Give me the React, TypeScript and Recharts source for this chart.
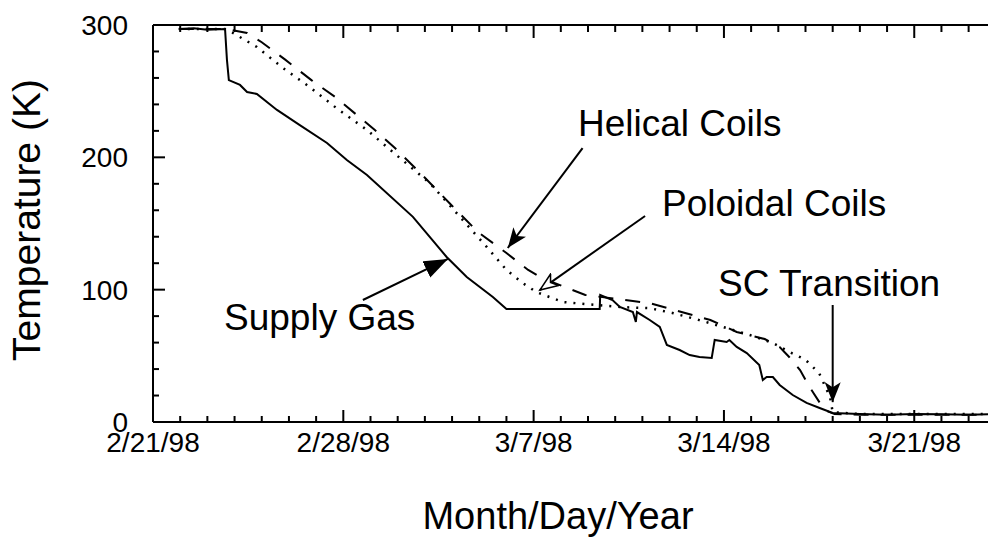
import { LineChart, Line, XAxis, YAxis, ReferenceLine } from "recharts";

const FONT = "'Liberation Sans', Arial, Helvetica, sans-serif";

// days since 2/21/98
const dayTicks = [
  0, 1, 2, 3, 4, 5, 6, 7, 8, 9, 10, 11, 12, 13, 14, 15, 16, 17, 18, 19, 20,
  21, 22, 23, 24, 25, 26, 27, 28, 29, 30, 31, 32,
];
const dateTicks = [0, 7, 14, 21, 28];
const dateLabels = ["2/21/98", "2/28/98", "3/7/98", "3/14/98", "3/21/98"];
const tempTicks = [0, 20, 40, 60, 80, 100, 120, 140, 160, 180, 200, 220, 240, 260, 280, 300];
const tempLabels = [0, 100, 200, 300];

const supplyDay = [
  0.95, 1.5, 2.0, 2.65, 2.72, 2.79, 3.2, 3.46, 3.82, 4.56, 5.4, 6.4, 7.13, 7.87,
  9.56, 10.8, 11.54, 12.5, 13.0, 16.43, 16.45, 16.9, 17.17, 17.65, 17.76, 17.8,
  18.27, 18.64, 18.9, 19.37, 19.74, 20.1, 20.55, 20.66, 21.1, 21.2, 21.47,
  21.84, 22.3, 22.43, 22.57, 22.8, 23.05, 23.53, 24.04, 24.52, 25.0, 26.0, 27.0,
  28.0, 29.0, 30.0, 31.0, 32.0,
];
const supplyK = [
  297, 297.5, 296.5, 297, 273.6, 258.4, 254.7, 249.4, 247.9, 235.8, 224.4,
  210.8, 198, 186.7, 155, 124.7, 109.6, 94.5, 85.4, 85.4, 96, 92.2, 86.9, 83.1,
  75.6, 83.1, 77.1, 71.8, 58.2, 54.4, 50.6, 49.1, 48.4, 62, 60.5, 62, 56.7, 52.1,
  43, 31.7, 34, 34, 28, 20.4, 14.4, 10.6, 6.8, 6, 5.5, 6, 5.8, 5.5, 6, 5.8,
];

const helicalDay = [
  0.95, 2.65, 3.46, 4.0, 4.85, 5.85, 6.7, 8.16, 8.9, 9.9, 10.9, 11.95, 13.0,
  13.8, 14.3, 15.9, 17.06, 17.65, 18.27, 19.3, 20.5, 21.47, 22.5, 23.05, 23.4,
  23.8, 24.15, 24.7, 25.07, 26, 28, 30, 32,
];
const helicalK = [
  297, 297, 294, 287, 274, 258, 245.6, 220.7, 207, 186.7, 165.5, 143.6, 127.7,
  114.9, 108.8, 96, 93, 91.4, 89.9, 83.9, 77.1, 68, 62.7, 56.7, 49.1, 39.3,
  26.4, 9, 6, 5.5, 5.5, 5.5, 5.5,
];

const poloidalDay = [
  0.95, 2.65, 2.94, 3.82, 4.78, 5.77, 6.76, 7.87, 8.82, 10.18, 11.29, 12.28,
  13.0, 13.6, 14.1, 15.07, 16.3, 17.17, 18.27, 19.1, 20.1, 21.1, 21.95, 22.8,
  23.5, 24.0, 24.5, 24.9, 25.0, 26, 28, 30, 32,
];
const poloidalK = [
  297, 297, 294, 283.4, 267.5, 253, 237, 220.7, 204, 180.6, 155, 132.2, 114.9,
  105, 98.2, 90.7, 88.4, 86.9, 86, 82.4, 77, 71, 65.7, 59.7, 52, 47, 37, 19,
  7.5, 6, 6, 6, 6,
];

const toRows = (days: number[], temps: number[]) =>
  days.map((d, i) => ({ d, t: temps[i] }));

const supplyData = toRows(supplyDay, supplyK);
const helicalData = toRows(helicalDay, helicalK);
const poloidalData = toRows(poloidalDay, poloidalK);

const BottomTick = ({ x, y, payload }: any) => {
  const i = dateTicks.indexOf(payload.value);
  const major = i >= 0;
  return (
    <g>
      <line x1={x} y1={y} x2={x} y2={y - (major ? 12 : 6)} stroke="#000" strokeWidth={2} />
      {major && (
        <text x={x} y={y + 30} textAnchor="middle" fontSize={28} fontFamily={FONT} fill="#000">
          {dateLabels[i]}
        </text>
      )}
    </g>
  );
};

// top mirror axis: ticks only, pointing down into the plot
const TopTick = ({ x, y, payload }: any) => {
  const major = dateTicks.includes(payload.value);
  return (
    <line x1={x} y1={y} x2={x} y2={y + (major ? 13 : 7)} stroke="#000" strokeWidth={2} />
  );
};

const LeftTick = ({ x, y, payload }: any) => {
  const major = tempLabels.includes(payload.value);
  return (
    <g>
      <line x1={x} y1={y} x2={x + (major ? 12 : 6)} y2={y} stroke="#000" strokeWidth={2} />
      {major && (
        <text x={x - 25} y={y + 10} textAnchor="end" fontSize={28} fontFamily={FONT} fill="#000">
          {payload.value}
        </text>
      )}
    </g>
  );
};

const arrow = (marker: string) => (p: any) => (
  <line
    x1={p.x1}
    y1={p.y1}
    x2={p.x2}
    y2={p.y2}
    stroke="#000"
    strokeWidth={2}
    markerEnd={`url(#${marker})`}
  />
);

const annStyle = { fontSize: 37, fontFamily: FONT, fill: "#000" };

export default function App() {
  return (
    <div
      style={{
        position: "absolute",
        left: 0,
        top: 0,
        width: 988,
        height: 539,
        overflow: "hidden",
        background: "#fff",
      }}
    >
      <svg width={0} height={0} style={{ position: "absolute" }}>
        <defs>
          <marker id="barb" markerUnits="userSpaceOnUse" markerWidth={22} markerHeight={16} refX={20} refY={8} orient="auto">
            <path d="M0,0 L20,8 L0,16 L5,8 Z" fill="#000" />
          </marker>
          <marker id="tri" markerUnits="userSpaceOnUse" markerWidth={26} markerHeight={20} refX={24} refY={9} orient="auto">
            <path d="M0,0 L24,9 L0,18 Z" fill="#000" />
          </marker>
          <marker id="open" markerUnits="userSpaceOnUse" markerWidth={22} markerHeight={16} refX={19} refY={8} orient="auto">
            <path d="M1,1 L19,8 L1,15 L6,8 Z" fill="#fff" stroke="#000" strokeWidth={1.5} />
          </marker>
        </defs>
      </svg>
      <LineChart
        width={1040}
        height={539}
        margin={{ top: 24, right: 17, bottom: 0, left: 0 }}
      >
        <XAxis
          dataKey="d"
          type="number"
          domain={[0, 32]}
          ticks={dayTicks}
          interval={0}
          allowDataOverflow
          height={117}
          tickSize={0}
          tickMargin={0}
          tickLine={false}
          tick={<BottomTick />}
          axisLine={{ stroke: "#000", strokeWidth: 2 }}
        />
        <XAxis
          xAxisId="top"
          orientation="top"
          dataKey="d"
          type="number"
          domain={[0, 32]}
          ticks={dayTicks}
          interval={0}
          allowDataOverflow
          height={1}
          tickSize={0}
          tickMargin={0}
          tickLine={false}
          tick={<TopTick />}
          axisLine={{ stroke: "#000", strokeWidth: 2 }}
        />
        <YAxis
          type="number"
          domain={[0, 300]}
          ticks={tempTicks}
          interval={0}
          width={153}
          tickSize={0}
          tickMargin={0}
          tickLine={false}
          tick={<LeftTick />}
          axisLine={{ stroke: "#000", strokeWidth: 2 }}
        />
        <Line
          data={supplyData}
          dataKey="t"
          type="linear"
          stroke="#000"
          strokeWidth={2}
          dot={false}
          activeDot={false}
          isAnimationActive={false}
        />
        <Line
          data={helicalData}
          dataKey="t"
          type="linear"
          stroke="#000"
          strokeWidth={2}
          strokeDasharray="15 12"
          dot={false}
          activeDot={false}
          isAnimationActive={false}
        />
        <Line
          data={poloidalData}
          dataKey="t"
          type="linear"
          stroke="#000"
          strokeWidth={2.5}
          strokeDasharray="2 7"
          dot={false}
          activeDot={false}
          isAnimationActive={false}
        />
        <ReferenceLine
          segment={[{ x: 15.8, y: 207 }, { x: 13.05, y: 131.5 }]}
          ifOverflow="visible"
          shape={arrow("barb")}
        />
        <ReferenceLine
          segment={[{ x: 18.1, y: 155.7 }, { x: 14.23, y: 99.7 }]}
          ifOverflow="visible"
          shape={arrow("open")}
        />
        <ReferenceLine
          segment={[{ x: 25.0, y: 88.4 }, { x: 25.0, y: 15 }]}
          ifOverflow="visible"
          shape={arrow("barb")}
        />
        <ReferenceLine
          segment={[{ x: 7.72, y: 92.2 }, { x: 10.85, y: 123.2 }]}
          ifOverflow="visible"
          shape={arrow("tri")}
        />
      </LineChart>
      <svg
        width={988}
        height={539}
        style={{ position: "absolute", left: 0, top: 0, pointerEvents: "none" }}
      >
        <text x={578} y={136} {...annStyle}>Helical Coils</text>
        <text x={662} y={216} {...annStyle}>Poloidal Coils</text>
        <text x={718} y={296} {...annStyle}>SC Transition</text>
        <text x={224} y={330} {...annStyle}>Supply Gas</text>
        <text x={558} y={529} textAnchor="middle" fontSize={38} fontFamily={FONT} fill="#000">
          Month/Day/Year
        </text>
        <text
          transform="translate(40,220) rotate(-90)"
          textAnchor="middle"
          fontSize={39}
          fontFamily={FONT}
          fill="#000"
        >
          Temperature (K)
        </text>
      </svg>
    </div>
  );
}
